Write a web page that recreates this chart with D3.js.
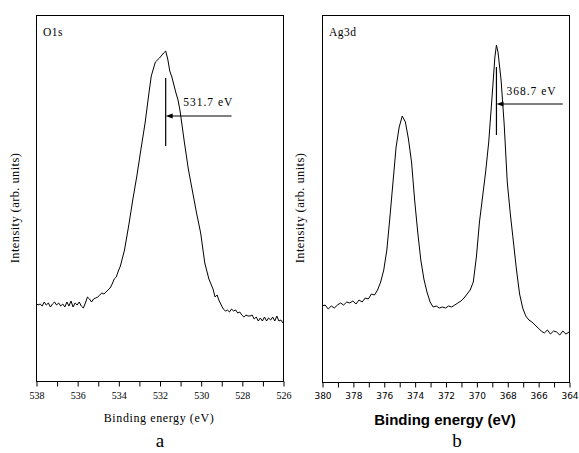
<!DOCTYPE html>
<html>
<head>
<meta charset="utf-8">
<script src="https://cdn.jsdelivr.net/npm/d3@7"></script>
<style>
body { margin: 0; background: #fff; }
svg { display: block; }
</style>
</head>
<body>
<svg id="chart" width="579" height="453"></svg>
<script>
// O1s spectrum (panel a)
var energyA = [538.0,537.9,537.8,537.7,537.6,537.5,537.4,537.3,537.2,537.1,537.0,536.9,536.8,536.7,536.6,536.5,536.4,536.3,536.2,536.1,536.0,535.9,535.8,535.7,535.6,535.5,535.4,535.3,535.2,535.1,535.0,534.9,534.8,534.7,534.6,534.5,534.4,534.3,534.2,534.1,534.0,533.9,533.8,533.7,533.6,533.5,533.3,533.1,532.9,532.7,532.5,532.4,532.2,532.0,531.8,531.7,531.6,531.5,531.4,531.3,531.2,531.1,531.0,530.8,530.6,530.4,530.2,530.0,529.8,529.6,529.4,529.3,529.2,529.1,529.0,528.9,528.8,528.7,528.6,528.5,528.4,528.3,528.2,528.1,528.0,527.9,527.8,527.7,527.6,527.5,527.4,527.3,527.2,527.1,527.0,526.9,526.8,526.7,526.6,526.5,526.4,526.3,526.2,526.1,526.0];
var countsA = [78,76,77,75,79,76,78,74,77,79,76,78,75,77,74,79,75,80,74,78,76,79,75,73,78,84,82,79,82,83,84,86,88,87,89,91,93,97,102,104,110,115,123,131,143,155,181,205,232,258,290,305,319,323,328,330,322,310,304,296,288,281,270,240,212,190,168,148,118,102,92,84,86,80,76,72,70,71,69,72,70,71,68,69,66,64,66,65,65,66,62,64,60,63,60,64,60,63,61,64,60,65,60,61,58];

// Ag3d spectrum (panel b)
var energyB = [380.0,379.8,379.6,379.4,379.2,379.0,378.8,378.6,378.4,378.2,378.0,377.8,377.6,377.4,377.2,377.0,376.8,376.6,376.4,376.2,376.0,375.8,375.6,375.4,375.2,375.0,374.8,374.6,374.4,374.2,374.0,373.8,373.6,373.4,373.2,373.0,372.8,372.6,372.4,372.2,372.0,371.8,371.6,371.4,371.2,371.0,370.8,370.6,370.4,370.2,370.0,369.8,369.6,369.4,369.2,369.0,368.8,368.7,368.6,368.4,368.2,368.0,367.8,367.6,367.4,367.2,367.0,366.8,366.6,366.4,366.2,366.0,365.8,365.6,365.4,365.2,365.0,364.8,364.6,364.4,364.2,364.0];
var countsB = [76,77,73,76,74,77,79,77,80,79,81,78,82,80,84,83,88,87,92,100,112,132,165,200,235,255,266,260,243,220,182,150,122,103,90,80,75,76,74,75,74,76,75,77,79,81,84,88,92,100,125,160,185,210,240,282,325,337,330,302,258,200,168,140,112,88,74,66,62,60,57,54,51,49,52,48,51,50,47,51,48,50];

var peakA = {energy: 531.7, label: "531.7 eV", lineTop: 303, lineBottom: 235, arrowAt: 265, arrowFrom: 528.5, textE: 530.85, textY: 275};
var peakB = {energy: 368.7, label: "368.7 eV", lineTop: 315, lineBottom: 247, arrowAt: 278, arrowFrom: 364.4, textE: 368.05, textY: 287};

var ticksA = d3.range(526, 539, 1);
var ticksB = d3.range(364, 381, 1);

var svg = d3.select("#chart");

function drawPanel(opt){
    var x = d3.scaleLinear().domain(opt.xDomain).range([opt.left, opt.right]);
    var y = d3.scaleLinear().domain([0, opt.yMax]).range([opt.bottom, opt.top]);
    var g = svg.append("g");

    // frame
    g.append("rect")
        .attr("x", opt.left + 0.5)
        .attr("y", opt.top + 0.5)
        .attr("width", opt.right - opt.left)
        .attr("height", opt.bottom - opt.top)
        .attr("fill", "none")
        .attr("stroke", "#000")
        .attr("stroke-width", 1);

    // x axis
    var axis = d3.axisBottom(x)
        .tickValues(opt.ticks)
        .tickSize(5)
        .tickFormat(function(d){ return d % 2 == 0 ? d : ""; });
    var ax = g.append("g")
        .attr("transform", "translate(0.5," + (opt.bottom + 0.5) + ")")
        .call(axis);
    ax.select(".domain").remove();
    ax.selectAll("text")
        .attr("dy", opt.tickDy)
        .style("font-family", opt.tickFont)
        .style("font-size", opt.tickSize)
        .attr("fill", "#000");

    // spectrum
    var line = d3.line()
        .x(function(d){ return x(d[0]); })
        .y(function(d){ return y(d[1]); });
    g.append("path")
        .datum(d3.zip(opt.energy, opt.counts))
        .attr("d", line)
        .attr("fill", "none")
        .attr("stroke", "#000")
        .attr("stroke-width", 1);

    // peak marker
    var p = opt.peak;
    g.append("line")
        .attr("x1", x(p.energy)).attr("x2", x(p.energy))
        .attr("y1", y(p.lineTop)).attr("y2", y(p.lineBottom))
        .attr("stroke", "#000").attr("stroke-width", 1.2);
    g.append("line")
        .attr("x1", x(p.arrowFrom)).attr("x2", x(p.energy) + 4)
        .attr("y1", y(p.arrowAt)).attr("y2", y(p.arrowAt))
        .attr("stroke", "#000").attr("stroke-width", 1);
    var ax0 = x(p.energy), ay = y(p.arrowAt);
    g.append("path")
        .attr("d", "M" + ax0 + "," + ay + "L" + (ax0 + 7) + "," + (ay - 2.5) + "L" + (ax0 + 7) + "," + (ay + 2.5) + "Z")
        .attr("fill", "#000");
    g.append("text")
        .attr("x", x(p.textE))
        .attr("y", y(p.textY))
        .style("font-family", "'Liberation Serif', serif")
        .style("font-size", "11.5px")
        .style("letter-spacing", "1px")
        .text(p.label);

    // element label
    g.append("text")
        .attr("x", opt.left + 7)
        .attr("y", opt.top + 21)
        .style("font-family", "'Liberation Serif', serif")
        .style("font-size", "11.5px")
        .style("letter-spacing", "0.5px")
        .text(opt.name);

    // y label
    g.append("text")
        .attr("transform", "translate(" + opt.yLabelX + "," + opt.yLabelY + ") rotate(-90)")
        .attr("text-anchor", "middle")
        .style("font-family", "'Liberation Serif', serif")
        .style("font-size", "12.5px")
        .style("letter-spacing", "0.4px")
        .text("Intensity (arb. units)");

    // x label
    g.append("text")
        .attr("x", opt.xLabelX)
        .attr("y", opt.xLabelY)
        .attr("text-anchor", "middle")
        .style("font-family", opt.xLabelFont)
        .style("font-size", opt.xLabelSize)
        .style("font-weight", opt.xLabelWeight)
        .style("letter-spacing", opt.xLabelSpacing)
        .text("Binding energy (eV)");

    // panel letter
    g.append("text")
        .attr("x", opt.letterX)
        .attr("y", 447)
        .attr("text-anchor", "middle")
        .style("font-family", "'Liberation Serif', serif")
        .style("font-size", "19px")
        .text(opt.letter);
}

drawPanel({
    xDomain: [538, 526], left: 36, right: 283, top: 15, bottom: 381, yMax: 366,
    ticks: ticksA, tickDy: "0.9em", tickFont: "'Liberation Serif', serif", tickSize: "10px",
    energy: energyA, counts: countsA, peak: peakA, name: "O1s",
    yLabelX: 19, yLabelY: 208, xLabelX: 159, xLabelY: 422, xLabelFont: "'Liberation Serif', serif",
    xLabelSize: "12px", xLabelWeight: "normal", xLabelSpacing: "0.6px",
    letterX: 160, letter: "a"
});

drawPanel({
    xDomain: [380, 364], left: 322, right: 569, top: 15, bottom: 382, yMax: 367,
    ticks: ticksB, tickDy: "0.95em", tickFont: "'DejaVu Sans', sans-serif", tickSize: "9px",
    energy: energyB, counts: countsB, peak: peakB, name: "Ag3d",
    yLabelX: 304, yLabelY: 208, xLabelX: 445, xLabelY: 425, xLabelFont: "'Liberation Sans', Arial, sans-serif",
    xLabelSize: "15px", xLabelWeight: "bold", xLabelSpacing: "0px",
    letterX: 457, letter: "b"
});
</script>
</body>
</html>
